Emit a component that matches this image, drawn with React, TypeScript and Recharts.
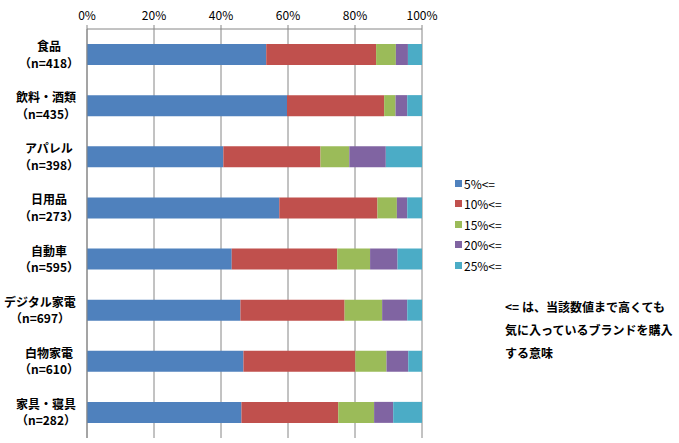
import React from 'react';
import { BarChart, Bar, XAxis, YAxis, CartesianGrid, Legend } from 'recharts';

const categories = ['食品', '飲料・酒類', 'アパレル', '日用品', '自動車', 'デジタル家電', '白物家電', '家具・寝具'];
const sampleSizes = [418, 435, 398, 273, 595, 697, 610, 282];
const p5 = [53.5, 59.7, 40.7, 57.4, 43.2, 45.8, 46.7, 46.1];
const p10 = [32.8, 29.0, 29.0, 29.3, 31.5, 31.1, 33.4, 28.9];
const p15 = [5.9, 3.4, 8.6, 5.8, 9.8, 11.2, 9.3, 10.7];
const p20 = [3.6, 3.5, 10.9, 3.1, 8.2, 7.5, 6.5, 5.7];
const p25 = [4.2, 4.4, 10.8, 4.4, 7.3, 4.4, 4.1, 8.6];
const xTicks = [0, 20, 40, 60, 80, 100];
const seriesNames = ['5%<=', '10%<=', '15%<=', '20%<=', '25%<='];
const seriesColors = ['#4F81BD', '#C0504D', '#9BBB59', '#8064A2', '#4BACC6'];
const noteLines = ['<= は、当該数値まで高くても', '気に入っているブランドを購入', 'する意味'];

const seriesValues = [p5, p10, p15, p20, p25];
const data = categories.map((c, i) => {
  const row: Record<string, string | number> = { name: c };
  seriesNames.forEach((s, k) => {
    row[s] = seriesValues[k][i];
  });
  return row;
});

const FONT = '"Noto Sans CJK JP", "Noto Sans", sans-serif';
const LABEL_FONT_SIZE = 12;

let measureCtx: CanvasRenderingContext2D | null = null;
const measure = (s: string) => {
  if (typeof document !== 'undefined') {
    if (!measureCtx) {
      const c = document.createElement('canvas');
      measureCtx = c.getContext('2d');
    }
    if (measureCtx) {
      measureCtx.font = `bold ${LABEL_FONT_SIZE}px "Noto Sans CJK JP"`;
      return measureCtx.measureText(s).width;
    }
  }
  return s.length * LABEL_FONT_SIZE;
};

const CategoryTick = (props: any) => {
  const { x, y, payload, index } = props;
  const line1 = String(payload.value);
  const line2 = `（n=${sampleSizes[index]}）`;
  const w = Math.max(measure(line1), measure(line2) - 6);
  const right = x - 11;
  const cx = right - w / 2;
  return (
    <g>
      <text x={cx} y={y - 3.5} textAnchor="middle" fontSize={LABEL_FONT_SIZE} fontWeight="bold" fill="#000" fontFamily={FONT}>
        {line1}
      </text>
      <text x={cx} y={y + 13} textAnchor="middle" fontSize={LABEL_FONT_SIZE} fontWeight="bold" fill="#000" fontFamily={FONT}>
        {line2}
      </text>
    </g>
  );
};

const LegendContent = (props: any) => {
  const payload = [...(props.payload || [])].sort(
    (a: any, b: any) => seriesNames.indexOf(a.value) - seriesNames.indexOf(b.value)
  );
  return (
    <div style={{ fontFamily: FONT, fontSize: 12, color: '#000' }}>
      {payload.map((p: any) => (
        <div key={p.value} style={{ display: 'flex', alignItems: 'center', height: 20.5 }}>
          <span style={{ display: 'inline-block', width: 7, height: 7, background: p.color, marginRight: 2 }} />
          <span>{p.value}</span>
        </div>
      ))}
    </div>
  );
};

export default function App() {
  return (
    <div style={{ position: 'absolute', left: 0, top: 0, width: 679, height: 443, background: '#fff' }}>
      <BarChart
        width={679}
        height={443}
        data={data}
        layout="vertical"
        margin={{ top: 5, right: 177, bottom: 5, left: 0 }}
        barSize={21}
      >
        <CartesianGrid horizontal={false} stroke="#868686" />
        <XAxis
          type="number"
          orientation="top"
          domain={[0, 100]}
          ticks={xTicks}
          tickFormatter={(v: number) => `${v}%`}
          height={24}
          axisLine={{ stroke: '#868686' }}
          tickLine={{ stroke: '#868686' }}
          tickSize={4}
          tickMargin={5}
          tick={{ fontSize: 12, fill: '#000', fontFamily: FONT }}
          interval={0}
          allowDataOverflow
        />
        <YAxis
          type="category"
          dataKey="name"
          width={87}
          axisLine={{ stroke: '#868686' }}
          tickLine={false}
          tickSize={0}
          tickMargin={0}
          tick={<CategoryTick />}
          interval={0}
        />
        <Legend
          layout="vertical"
          align="right"
          verticalAlign="top"
          content={<LegendContent />}
          wrapperStyle={{ position: 'absolute', left: 455, top: 173, width: 80 }}
        />
        {seriesNames.map((s, k) => (
          <Bar key={s} dataKey={s} stackId="a" fill={seriesColors[k]} isAnimationActive={false} />
        ))}
      </BarChart>
      <div
        style={{
          position: 'absolute',
          left: 505,
          top: 295,
          fontFamily: FONT,
          fontSize: 12,
          fontWeight: 'bold',
          lineHeight: '23px',
          color: '#000',
          whiteSpace: 'nowrap',
        }}
      >
        {noteLines.map((l) => (
          <div key={l}>{l}</div>
        ))}
      </div>
    </div>
  );
}
